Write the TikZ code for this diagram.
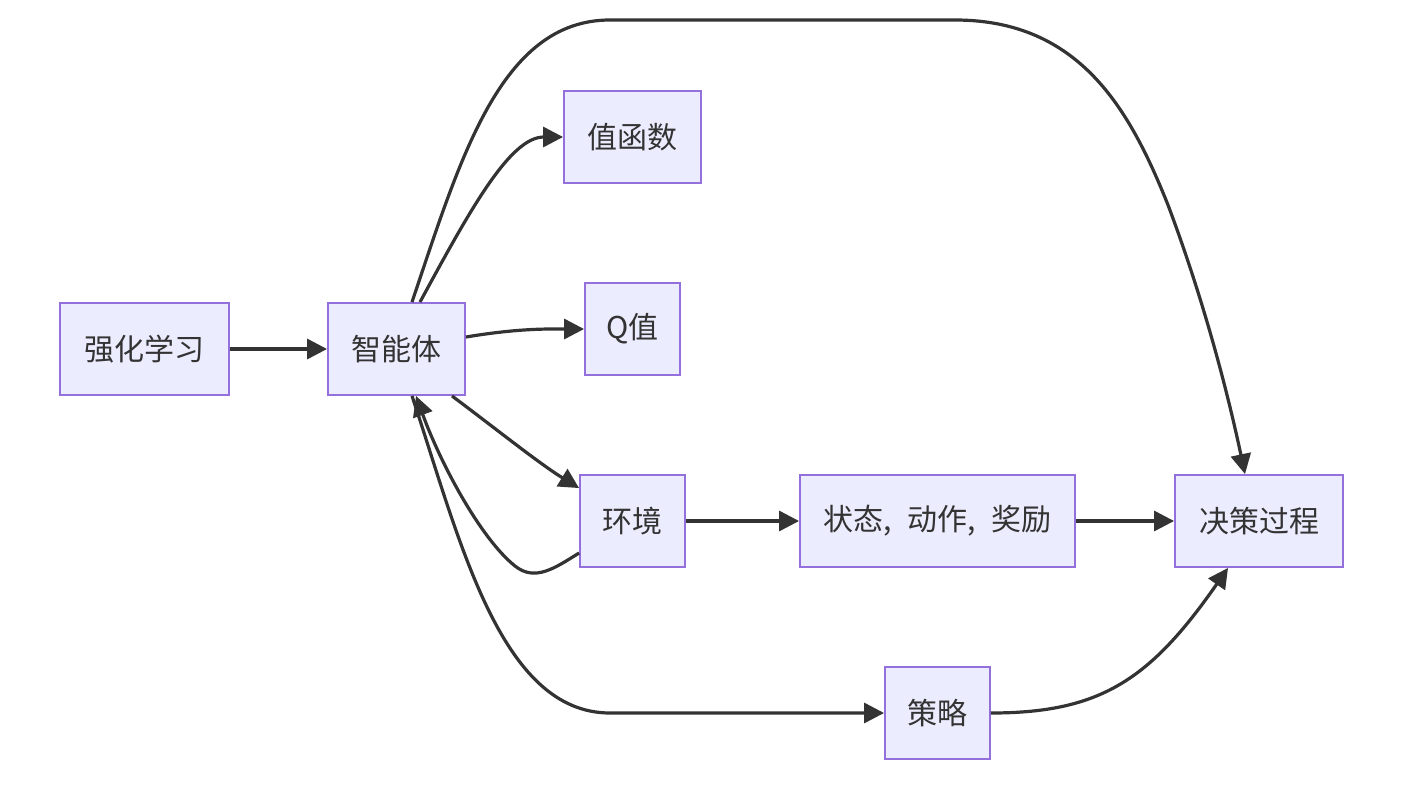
\documentclass[tikz,border=0pt]{standalone}
\usepackage{fontspec}
\setmainfont{Noto Sans CJK SC}
\usetikzlibrary{arrows.meta,calc}
\definecolor{boxfill}{HTML}{ECECFF}
\definecolor{boxline}{HTML}{9370DB}
\definecolor{ink}{HTML}{333333}
\begin{document}
\begin{tikzpicture}[x=0.75pt,y=-0.75pt,
  box/.style={draw=boxline,fill=boxfill,line width=1.4pt,inner sep=0pt,
    minimum height=69pt,text=ink,font=\fontsize{22.5}{27}\selectfont},
  link/.style={draw=ink,line width=2.4pt,-{Triangle[length=15pt,width=15pt]}}]
\useasboundingbox (0,0) rectangle (1407,785);
\node[box,minimum width=126.75pt] (A) at (144.5,349) {强化学习};
\node[box,minimum width=102.75pt] (B) at (396.5,349) {智能体};
\node[box,minimum width=102.75pt] (C) at (632.5,137) {值函数};
\node[box,minimum width=71.25pt] (D) at (632.5,329) {Q值};
\node[box,minimum width=78.75pt] (E) at (632.5,521) {环境};
\node[box,minimum width=206.25pt] (F) at (937.5,521) {状态,\hspace{12pt}动作,\hspace{12pt}奖励};
\node[box,minimum width=126pt] (G) at (1259,521) {决策过程};
\node[box,minimum width=78.75pt] (H) at (937.5,713) {策略};

\draw[link] (A.east) -- (B.west);
\draw[link] ($(B.north)+(23.5,0)$) .. controls (470,210) and (510,137) .. (C.west);
\draw[link] ($(B.east)+(0,-12)$) .. controls (520,328) and (550,329) .. (D.west);
\draw[link] ($(B.south)+(55.5,0)$) .. controls (500,432) and (540,464) .. ($(E.north west)+(0,14)$);
\draw[link] ($(E.west)+(0,32)$) .. controls (555,568) and (535,582) .. (515,566)
  .. controls (480,538) and (440,462) .. ($(B.south)+(19.5,0)$);
\draw[link] ($(B.north)+(15.5,0)$) .. controls (460,160) and (500,20) .. (610,20)
  -- (955,20) .. controls (1080,20) and (1130,110) .. (1168,205)
  .. controls (1200,290) and (1225,380) .. ($(G.north)+(-14,0)$);
\draw[link] ($(B.south)+(15.5,0)$) .. controls (460,540) and (500,713) .. (610,713)
  -- (H.west);
\draw[link] (E.east) -- (F.west);
\draw[link] (F.east) -- (G.west);
\draw[link] (H.east) .. controls (1100,713) and (1150,680) .. ($(G.south)+(-31,0)$);
\end{tikzpicture}
\end{document}
